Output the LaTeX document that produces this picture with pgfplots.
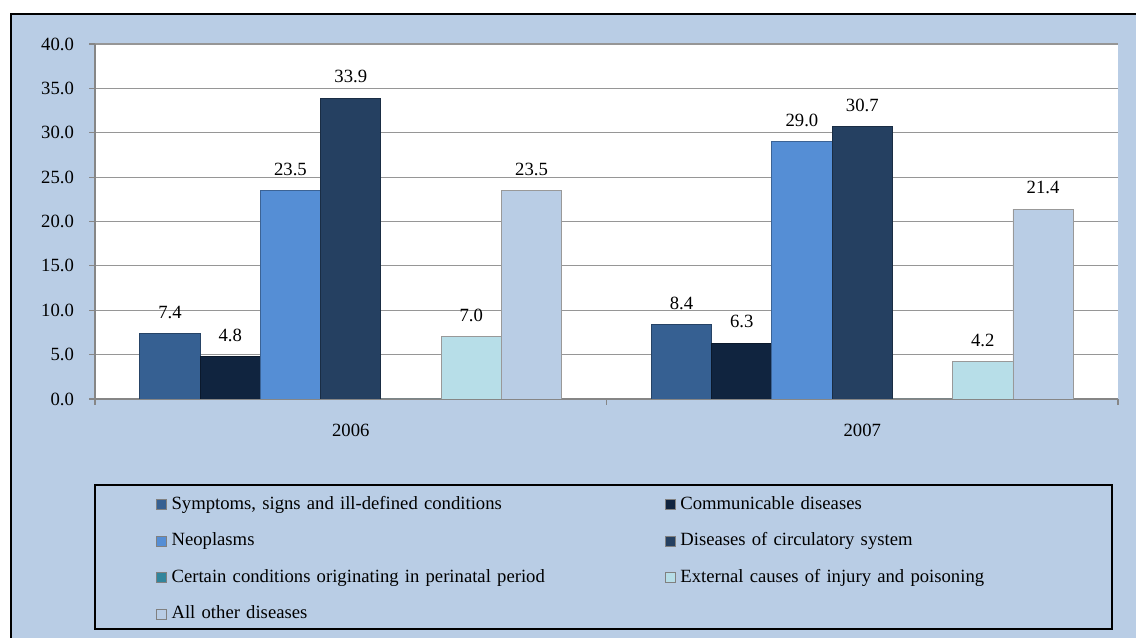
\documentclass[border=0pt]{standalone}
\usepackage{fontspec}
\setmainfont{Liberation Serif}
\usepackage{pgfplots}
\pgfplotsset{compat=1.18}
\definecolor{bgblue}{HTML}{B9CDE5}
\definecolor{cA}{HTML}{366092}
\definecolor{cB}{HTML}{10243F}
\definecolor{cC}{HTML}{558ED5}
\definecolor{cD}{HTML}{254061}
\definecolor{cE}{HTML}{31859C}
\definecolor{cF}{HTML}{B7DEE8}
\definecolor{cG}{HTML}{B9CDE5}
\definecolor{gridgray}{HTML}{969696}
\definecolor{axisgray}{HTML}{868686}
\begin{document}
\fontsize{14}{16.8}\selectfont
\begin{tikzpicture}
\path[use as bounding box] (0,0) rectangle (852pt,478.5pt);
\fill[bgblue] (8.25pt,0) rectangle (852pt,468pt);
\draw[black,line width=1.9pt] (8.25pt,0) -- (8.25pt,468pt) -- (852pt,468pt);
\draw[black,line width=1pt] (71.25pt,6.75pt) rectangle (834pt,114.75pt);
\begin{axis}[
  at={(71.25pt,179.25pt)}, anchor=south west,
  width=767.25pt, height=266.25pt, scale only axis,
  xmin=0, xmax=2, ymin=0, ymax=40,
  axis background/.style={fill=white},
  axis lines*=left,
  axis line style={axisgray, line width=1.1pt},
  ybar=0pt, bar width=45.2pt,
  xtick={0,1,2}, xticklabels={},
  extra x ticks={0.5,1.5}, extra x tick labels={2006,2007},
  extra x tick style={major tick length=0pt, grid=none},
  xticklabel style={yshift=-14pt},
  ytick={0,5,...,40},
  ymajorgrids,
  major grid style={gridgray, line width=0.9pt},
  tick style={axisgray, line width=0.9pt},
  tick align=outside, major tick length=4.5pt,
  yticklabel style={xshift=-6.5pt},
  /pgf/number format/assume math mode=true,
  yticklabel={\pgfmathprintnumber[fixed,fixed zerofill,precision=1]{\tick}},
  nodes near coords style={yshift=6.2pt, /pgf/number format/.cd, fixed, fixed zerofill, precision=1, assume math mode=true},
  legend columns=2,
  legend cell align=left,
  legend image code/.code={\draw[#1, draw=gray, line width=0.6pt] (0pt,-3.75pt) rectangle (7.5pt,3.75pt);},
  legend style={at={(axis description cs:0.0596,-0.2625)}, anchor=north west,
    draw=none, fill=none, inner sep=0pt, row sep=9.4pt,
    /tikz/column sep=0pt,
    /tikz/every even column/.style={column sep=0pt},
    /tikz/every odd column/.style={column sep=0pt},
    nodes={inner xsep=3.4pt, inner ysep=2pt, text height=0.75em, text depth=0.25em, text width=366.7pt, align=left}},
]
\addplot[fill=cA, draw=cA!70!black, line width=0.6pt, nodes near coords] coordinates {(0.5,7.4) (1.5,8.4)};
\addlegendentry{Symptoms, signs and ill-defined conditions}
\addplot[fill=cB, draw=cB!70!black, line width=0.6pt, nodes near coords] coordinates {(0.5,4.8) (1.5,6.3)};
\addlegendentry{Communicable diseases}
\addplot[fill=cC, draw=cC!70!black, line width=0.6pt, nodes near coords] coordinates {(0.5,23.5) (1.5,29.0)};
\addlegendentry{Neoplasms}
\addplot[fill=cD, draw=cD!70!black, line width=0.6pt, nodes near coords] coordinates {(0.5,33.9) (1.5,30.7)};
\addlegendentry{Diseases of circulatory system}
\addplot[fill=cE, draw=none] coordinates {(0.5,0) (1.5,0)};
\addlegendentry{Certain conditions originating in perinatal period}
\addplot[fill=cF, draw=gray!80, line width=0.6pt, nodes near coords] coordinates {(0.5,7.0) (1.5,4.2)};
\addlegendentry{External causes of injury and poisoning}
\addplot[fill=cG, draw=gray!80, line width=0.6pt, nodes near coords] coordinates {(0.5,23.5) (1.5,21.4)};
\addlegendentry{All other diseases}
\end{axis}
\end{tikzpicture}
\end{document}
